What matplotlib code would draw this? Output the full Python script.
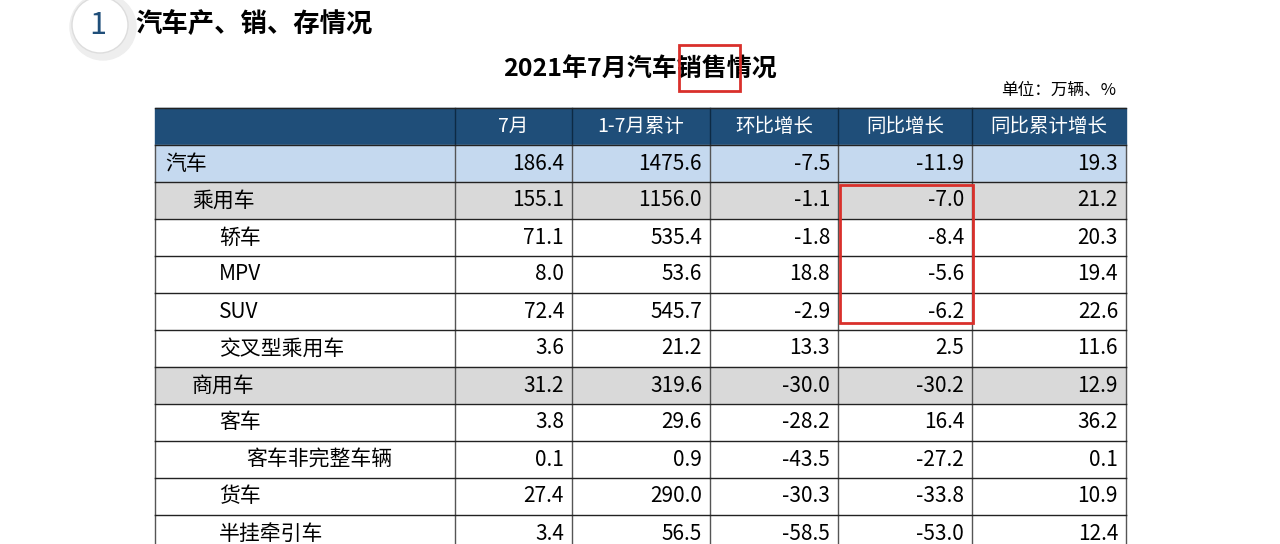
import matplotlib.pyplot as plt
from matplotlib.patches import Rectangle, Circle

plt.rcParams['font.family'] = ['Noto Sans CJK SC', 'DejaVu Sans']

# ====表格数据
row_names = ['汽车', '乘用车', '轿车', 'MPV', 'SUV', '交叉型乘用车', '商用车', '客车',
             '客车非完整车辆', '货车', '半挂牵引车']
row_level = [0, 1, 2, 2, 2, 2, 1, 2, 3, 2, 2]
col_names = ['7月', '1-7月累计', '环比增长', '同比增长', '同比累计增长']
m7 = [186.4, 155.1, 71.1, 8.0, 72.4, 3.6, 31.2, 3.8, 0.1, 27.4, 3.4]
cum = [1475.6, 1156.0, 535.4, 53.6, 545.7, 21.2, 319.6, 29.6, 0.9, 290.0, 56.5]
mom = [-7.5, -1.1, -1.8, 18.8, -2.9, 13.3, -30.0, -28.2, -43.5, -30.3, -58.5]
yoy = [-11.9, -7.0, -8.4, -5.6, -6.2, 2.5, -30.2, 16.4, -27.2, -33.8, -53.0]
yoy_cum = [19.3, 21.2, 20.3, 19.4, 22.6, 11.6, 12.9, 36.2, 0.1, 10.9, 12.4]

fig = plt.figure(figsize=(12.8, 5.44), dpi=100)
ax = fig.add_axes([0, 0, 1, 1])
ax.set_xlim(0, 1280)
ax.set_ylim(544, 0)
ax.axis('off')

# 标题区
ax.add_patch(Circle((103, 27), 33, color='#eeeeee', zorder=1))
ax.add_patch(Circle((100, 25), 28, facecolor='white', edgecolor='#dddddd', zorder=2))
ax.text(98, 25, '1', fontsize=22, color='#1f4e79', ha='center', va='center', zorder=3)
ax.text(135, 25, '汽车产、销、存情况', fontsize=19, fontweight='bold', va='center')
ax.text(640, 70, '2021年7月汽车销售情况', fontsize=18, fontweight='bold', ha='center', va='center')
ax.add_patch(Rectangle((679, 45), 61, 46, fill=False, edgecolor='#d9302b', lw=2, zorder=5))
ax.text(1116, 90, '单位：万辆、%', fontsize=12, ha='right', va='center')

# 表格
xs = [155, 455, 572, 710, 838, 972, 1126]
top, hh, rh = 108, 37, 37
ax.add_patch(Rectangle((xs[0], top), xs[-1] - xs[0], hh, color='#1f4e79'))
for j, name in enumerate(col_names):
    ax.text((xs[j + 1] + xs[j + 2]) / 2, top + hh / 2, name, fontsize=14, color='white',
            ha='center', va='center')
for x in xs[1:-1]:
    ax.plot([x, x], [top, top + hh], color='#0d2a44', lw=1)

fills = {'汽车': '#c5d9ef', '乘用车': '#d9d9d9', '商用车': '#d9d9d9'}
for i, name in enumerate(row_names):
    y0 = top + hh + i * rh
    ax.add_patch(Rectangle((xs[0], y0), xs[-1] - xs[0], rh, color=fills.get(name, 'white')))
    ax.text(165 + row_level[i] * 27, y0 + rh / 2, name, fontsize=15, va='center')
    vals = [m7[i], cum[i], mom[i], yoy[i], yoy_cum[i]]
    for j, v in enumerate(vals):
        ax.text(xs[j + 2] - 8, y0 + rh / 2, f'{v:.1f}', fontsize=15, ha='right', va='center')
    for x in xs:
        ax.plot([x, x], [y0, y0 + rh], color='#555555', lw=1)
    ax.plot([xs[0], xs[-1]], [y0, y0], color='#222222', lw=1)
ax.plot([xs[0], xs[-1]], [top, top], color='#222222', lw=1)

ax.add_patch(Rectangle((840, 185), 133, 138, fill=False, edgecolor='#d9302b', lw=2, zorder=5))

fig.savefig('out.png', dpi=100)
